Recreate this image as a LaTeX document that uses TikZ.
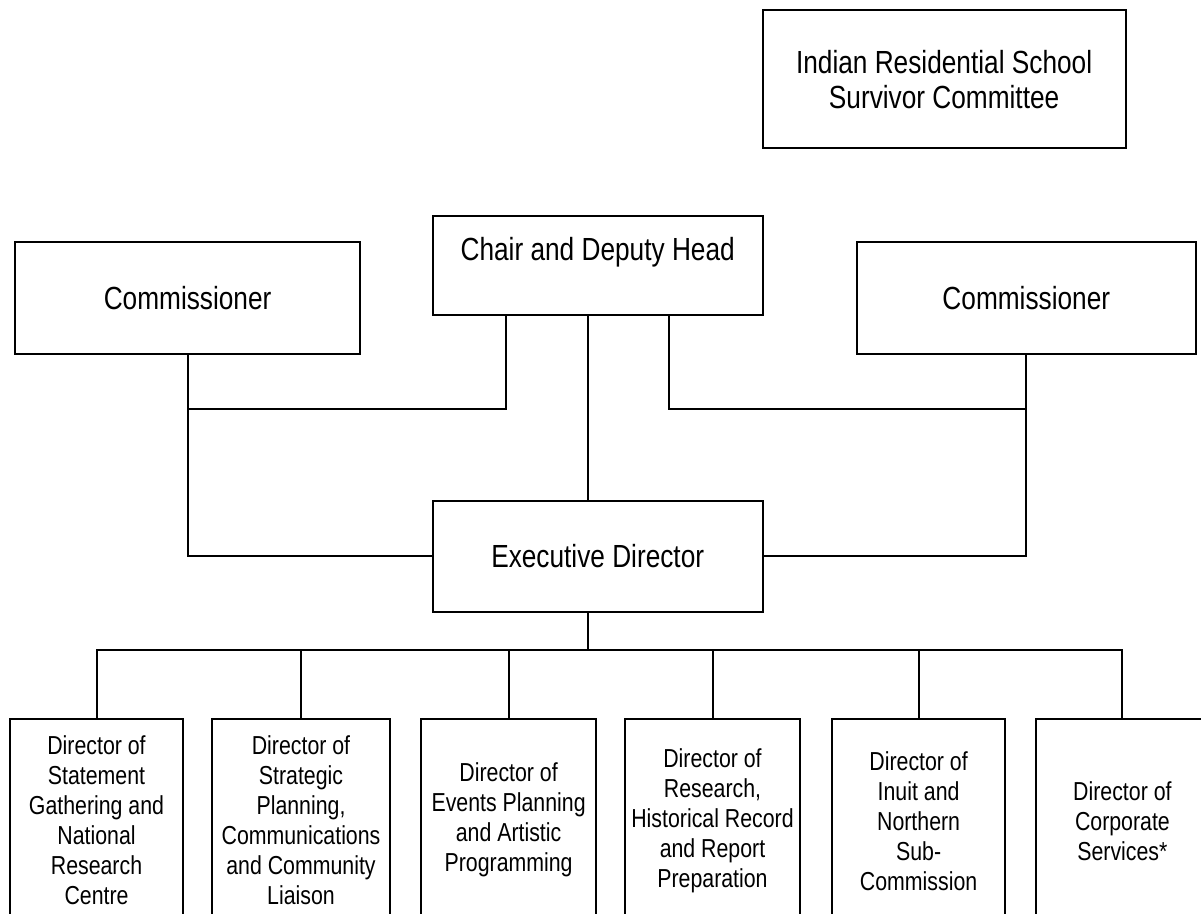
\documentclass[tikz,border=0pt]{standalone}
\usepackage{fontspec}
\setmainfont{Liberation Sans}[FakeStretch=0.82]
\begin{document}
\begin{tikzpicture}[x=1pt,y=-1pt,
  box/.style={draw,line width=2pt,inner sep=0pt,outer sep=0pt,rectangle},
  big/.style={font=\fontsize{32}{35}\selectfont,align=center,inner sep=0pt},
  small/.style={font=\fontsize{26}{30}\selectfont,align=center,inner sep=0pt},
  conn/.style={line width=2pt}]
\useasboundingbox (0,0) rectangle (1201,913);
\fill[white] (0,0) rectangle (1201,913);
\clip (0,0) rectangle (1201,913);

% top boxes
\node[box,minimum width=362.8pt,minimum height=138pt] (irssc) at (944.1,79) {};
\node[big] (irsscl) at (944.1,80) {Indian Residential School\\Survivor Committee};

\node[box,minimum width=330pt,minimum height=99pt] (chair) at (597.7,265.5) {};
\node[big] (chairl) at (597.7,252) {Chair and Deputy Head};

\node[box,minimum width=344.7pt,minimum height=112.3pt] (comL) at (187.6,297.9) {};
\node[big] (comLl) at (187.6,298) {Commissioner};

\node[box,minimum width=339.5pt,minimum height=112.3pt] (comR) at (1026.3,297.9) {};
\node[big] (comRl) at (1026.3,298) {Commissioner};

\node[box,minimum width=330pt,minimum height=110.7pt] (ed) at (597.7,556.4) {};
\node[big] (edl) at (597.7,556) {Executive Director};

% bottom boxes
\node[box,minimum width=173pt,minimum height=221pt] (bx1) at (96.5,829.5) {};
\node[box,minimum width=178.8pt,minimum height=221pt] (bx2) at (301,829.5) {};
\node[box,minimum width=175.2pt,minimum height=221pt] (bx3) at (508.6,829.5) {};
\node[box,minimum width=175.3pt,minimum height=221pt] (bx4) at (712.5,829.5) {};
\node[box,minimum width=172.6pt,minimum height=221pt] (bx5) at (918.6,829.5) {};
\node[box,minimum width=172.2pt,minimum height=221pt] (bx6) at (1122.4,829.5) {};

\node[small] (t1) at (96.5,820) {Director of\\Statement\\Gathering and\\National\\Research\\Centre};
\node[small] (t2) at (301,820) {Director of\\Strategic\\Planning,\\Communications\\and Community\\Liaison};
\node[small] (t3) at (508.6,820) {Director of\\Events Planning\\and Artistic\\Programming};
\node[small] (t4) at (712.5,821) {Director of\\Research,\\Historical Record\\and Report\\Preparation};
\node[small] (t5) at (918.6,821) {Director of\\Inuit and\\Northern\\Sub-\\Commission};
\node[small] (t6) at (1122.4,821) {Director of\\Corporate\\Services*};

% connectors
\draw[conn] ([xshift=-91.7pt]chair.south) -- ++(0,93.7) -| (comL.south);
\draw[conn] ([xshift=71.2pt]chair.south) -- ++(0,93.7) -| (comR.south);
\draw[conn] (comL.south) |- (ed.west);
\draw[conn] (comR.south) |- (ed.east);
\draw[conn] ([xshift=-9.5pt]chair.south) -- ([xshift=-9.5pt]ed.north);
\draw[conn] ([xshift=-9.5pt]ed.south) -- ++(0,38) coordinate (bus);
\draw[conn] (bx1.north) -- (bx1.north |- bus) -- (bx6.north |- bus) -- (bx6.north);
\draw[conn] (bx2.north) -- (bx2.north |- bus);
\draw[conn] (bx3.north) -- (bx3.north |- bus);
\draw[conn] (bx4.north) -- (bx4.north |- bus);
\draw[conn] (bx5.north) -- (bx5.north |- bus);
\end{tikzpicture}
\end{document}
